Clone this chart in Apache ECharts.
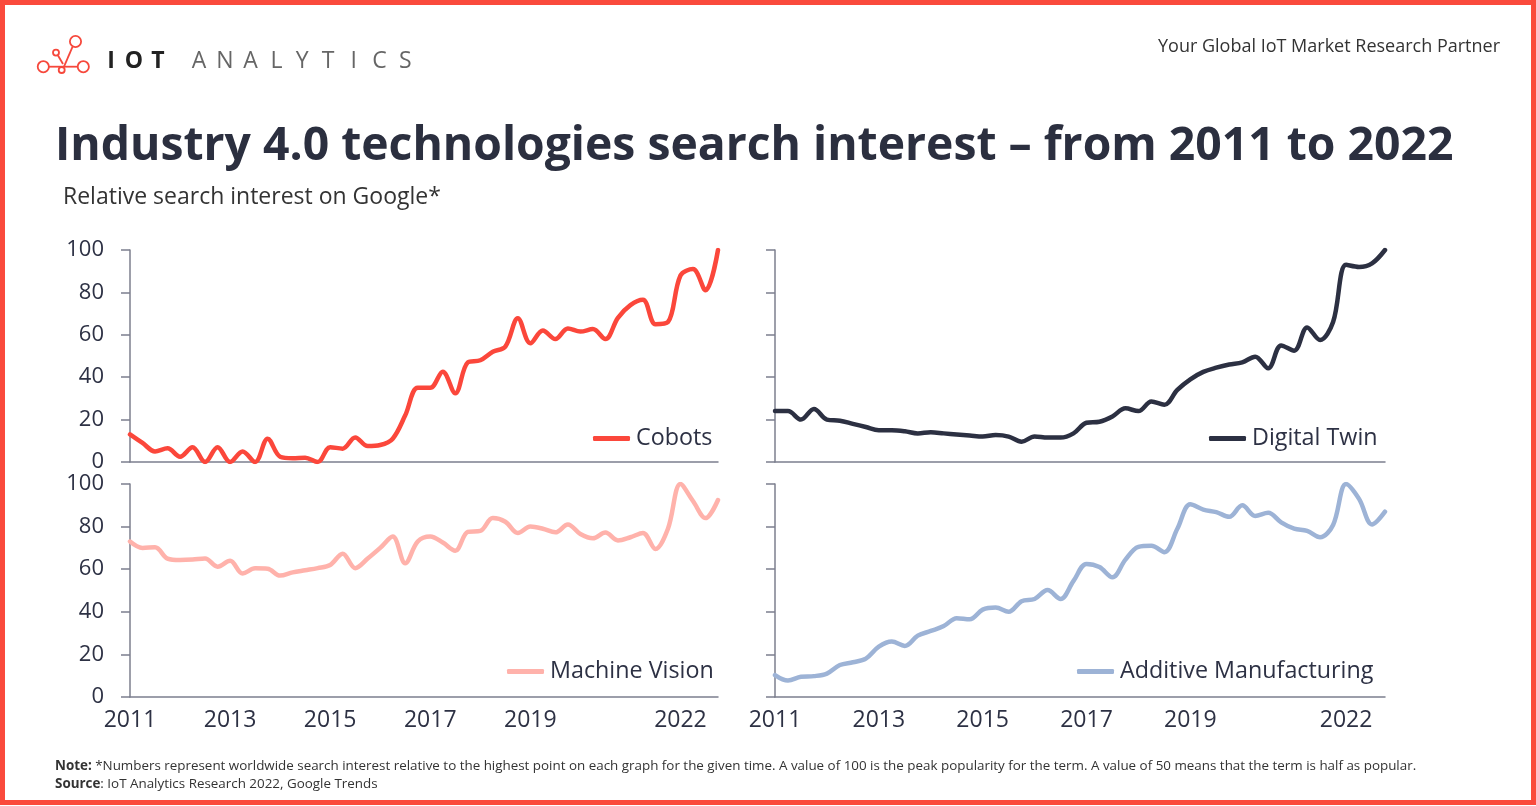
<!DOCTYPE html>
<html>
<head>
<meta charset="utf-8">
<title>Industry 4.0 technologies search interest</title>
<script src="https://cdn.jsdelivr.net/npm/echarts@6/dist/echarts.min.js"></script>
<style>
  html, body { margin: 0; padding: 0; background: #fff; }
  #chart { width: 1536px; height: 806px; }
</style>
</head>
<body>
<div id="chart"></div>
<script>
// quarterly points, 2011 Q1 .. 2022 Q4
const quarters = [];
for (let y = 2011; y <= 2022; y++) {
  for (let q = 1; q <= 4; q++) quarters.push(y + ' Q' + q);
}
const yearLabels = ['2011 Q1', '2013 Q1', '2015 Q1', '2017 Q1', '2019 Q1', '2022 Q1'];

const cobots = [13, 9, 5, 6.5, 2.5, 7, 0, 7, 0, 5, 0, 11, 2.5, 1.8, 2, 0,
  7, 6.3, 11.6, 7.5, 8, 11, 22, 35, 35, 42.6, 32.4, 47, 48, 52, 54.4, 67.8,
  56, 62, 58, 63, 61.5, 62.7, 58, 68, 74, 76.5, 65, 66, 88, 91, 81, 100];

const digitalTwin = [24, 24, 20, 25, 20, 19.5, 18, 16.5, 15, 15, 14.5, 13.5, 14, 13.5, 13, 12.5,
  12, 12.7, 12, 9.6, 12, 11.5, 11.5, 13.5, 18.5, 19, 21.5, 25.3, 24, 28.5, 27, 34,
  39, 42.5, 44.5, 46, 47, 49.7, 44.2, 55, 52.5, 63.5, 57.5, 66, 93, 92, 93.7, 100];

const machineVision = [73, 70, 70.3, 65, 64.3, 64.5, 65, 61.2, 64, 58, 60.4, 60.2, 57, 58.5, 59.5, 60.5,
  62, 67.3, 60.5, 65, 70, 75.3, 62.8, 73, 75.3, 72.5, 68.7, 77.5, 78, 84, 82.3, 77,
  80, 79, 77.3, 81, 76.5, 74.5, 77.2, 73.5, 75, 77, 69.5, 79, 100, 92, 84, 92.5];

const additive = [10.3, 7.7, 9.5, 9.8, 11, 15, 16.3, 18, 23.6, 26, 24, 28.8, 31, 33.3, 37, 36.5,
  41, 42, 40, 45, 46, 50.2, 46, 54.5, 62.5, 61, 56.2, 64.5, 70.5, 71, 68, 79,
  90.5, 88, 86.8, 84.6, 90, 85, 86.5, 82, 79, 78, 75, 80.8, 100, 93, 81, 87];

const panels = [
  { name: 'Cobots', data: cobots, color: '#fb473b' },
  { name: 'Digital Twin', data: digitalTwin, color: '#2c3042' },
  { name: 'Machine Vision', data: machineVision, color: '#ffb2ab' },
  { name: 'Additive Manufacturing', data: additive, color: '#9db3d6' }
];

const FONT = '"Open Sans", sans-serif';
const INK = '#2d3144';
const AXIS = '#7c7f8e';

const grids = [
  { left: 130, top: 250, width: 588, height: 212 },
  { left: 775, top: 250, width: 610, height: 212 },
  { left: 130, top: 484, width: 588, height: 213 },
  { left: 775, top: 484, width: 610, height: 213 }
];
const legendPos = [
  { left: 588, top: 422 },
  { left: 1204, top: 422 },
  { left: 502, top: 655 },
  { left: 1072, top: 655 }
];

const chart = echarts.init(document.getElementById('chart'), null, { renderer: 'canvas' });

const xAxes = grids.map((g, i) => ({
  type: 'category',
  gridIndex: i,
  data: quarters,
  boundaryGap: false,
  axisLine: { lineStyle: { color: AXIS, width: 1.5 } },
  axisTick: { show: false },
  splitLine: { show: false },
  axisLabel: {
    show: i >= 2,
    interval: (idx, val) => yearLabels.indexOf(val) >= 0,
    formatter: v => v.slice(0, 4),
    color: INK, fontSize: 23, fontFamily: FONT, margin: 12
  }
}));

const yAxes = grids.map((g, i) => ({
  type: 'value',
  gridIndex: i,
  min: 0, max: 100, interval: 20,
  axisLine: { show: true, lineStyle: { color: AXIS, width: 1.5 } },
  axisTick: { show: true, length: 9, lineStyle: { color: AXIS, width: 1.5 } },
  splitLine: { show: false },
  axisLabel: {
    show: i % 2 === 0,
    color: INK, fontSize: 22, fontFamily: FONT, margin: 26
  }
}));

const series = panels.map((p, i) => ({
  name: p.name,
  type: 'line',
  xAxisIndex: i,
  yAxisIndex: i,
  data: p.data,
  smooth: 0.35,
  symbol: 'none',
  itemStyle: { color: p.color },
  lineStyle: { color: p.color, width: 4.5, cap: 'round', join: 'round' }
}));

const legends = panels.map((p, i) => ({
  data: [p.name],
  left: legendPos[i].left,
  top: legendPos[i].top,
  icon: 'roundRect',
  itemWidth: 37,
  itemHeight: 5,
  selectedMode: false,
  textStyle: { color: INK, fontSize: 23.3, fontFamily: FONT, padding: [0, 0, 0, 1] }
}));

// logo: little red molecule
const RED = '#f6483c';
const logo = [
  { type: 'line', shape: { x1: 49, y1: 66.7, x2: 77.6, y2: 66.7 } },
  { type: 'line', shape: { x1: 64, y1: 66.7, x2: 72.5, y2: 46.8 } },
  { type: 'line', shape: { x1: 58, y1: 55.5, x2: 63, y2: 64 } },
  { type: 'circle', shape: { cx: 75.5, cy: 41.5, r: 5.6 } },
  { type: 'circle', shape: { cx: 56, cy: 52.6, r: 3 } },
  { type: 'circle', shape: { cx: 43.3, cy: 66.7, r: 5.6 } },
  { type: 'circle', shape: { cx: 83.3, cy: 66.7, r: 5.6 } },
  { type: 'circle', shape: { cx: 61.7, cy: 70, r: 3 } }
].map(e => Object.assign(e, { style: { fill: e.type === 'circle' ? '#fff' : null, stroke: RED, lineWidth: 1.8 }, z: 10 }));

const iotLetters = [['I', 111], ['O', 134], ['T', 158]].map(([c, x]) => ({
  type: 'text',
  style: { text: c, x: x, y: 61, textAlign: 'center', textVerticalAlign: 'middle',
    font: 'bold 23px ' + FONT, fill: '#222' }
}));
const analytics = 'ANALYTICS'.split('').map((c, i) => ({
  type: 'text',
  style: { text: c, x: 199 + i * 25.8, y: 61, textAlign: 'center', textVerticalAlign: 'middle',
    font: '23px ' + FONT, fill: '#666' }
}));

const graphic = [
  { type: 'rect', shape: { x: 2.5, y: 2.5, width: 1531, height: 800 },
    style: { fill: null, stroke: '#fa4a3c', lineWidth: 5 }, z: 100 },
  ...logo, ...iotLetters, ...analytics,
  { type: 'text', style: { text: 'Your Global IoT Market Research Partner', x: 1500, y: 47,
      textAlign: 'right', textVerticalAlign: 'middle', font: '18px ' + FONT, fill: '#333' } },
  { type: 'text', style: { text: 'Industry 4.0 technologies search interest \u2013 from 2011 to 2022', x: 55, y: 147,
      textAlign: 'left', textVerticalAlign: 'middle', font: 'bold 46.3px ' + FONT, fill: '#2b2f3f' } },
  { type: 'text', style: { text: 'Relative search interest on Google*', x: 63, y: 197,
      textAlign: 'left', textVerticalAlign: 'middle', font: '23px ' + FONT, fill: '#333' } },
  { type: 'text', style: {
      text: '{b|Note:} *Numbers represent worldwide search interest relative to the highest point on each graph for the given time. A value of 100 is the peak popularity for the term. A value of 50 means that the term is half as popular.',
      x: 55, y: 766, textVerticalAlign: 'middle', font: '13.4px ' + FONT, fill: '#333',
      rich: { b: { fontWeight: 'bold', fontSize: 13.4, fontFamily: FONT, fill: '#333' } } } },
  { type: 'text', style: {
      text: '{b|Source}: IoT Analytics Research 2022, Google Trends',
      x: 55, y: 784, textVerticalAlign: 'middle', font: '13.4px ' + FONT, fill: '#333',
      rich: { b: { fontWeight: 'bold', fontSize: 13.4, fontFamily: FONT, fill: '#333' } } } }
];

chart.setOption({
  animation: false,
  backgroundColor: '#fff',
  textStyle: { fontFamily: FONT },
  grid: grids,
  xAxis: xAxes,
  yAxis: yAxes,
  legend: legends,
  series: series,
  graphic: graphic
});
</script>
</body>
</html>
